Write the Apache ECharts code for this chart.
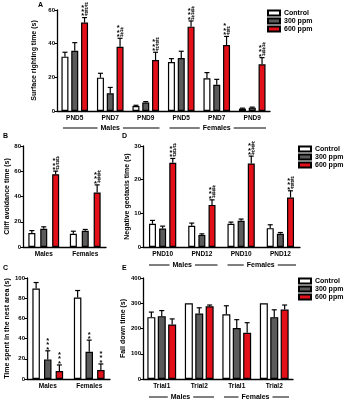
<!DOCTYPE html>
<html>
<head>
<meta charset="utf-8">
<script src="https://cdn.jsdelivr.net/npm/echarts@6/dist/echarts.min.js"></script>
<style>
  html, body { margin: 0; padding: 0; background: #fff; }
  #main { width: 346px; height: 400px; }
</style>
</head>
<body>
<div id="main"></div>
<script>
var FONT = 'Liberation Sans';
var doses = ['Control', '300 ppm', '600 ppm'];
var colors = ['#ffffff', '#5a5a5a', '#e3101a'];

// A - surface righting
var A_cats = ['PND5', 'PND7', 'PND9', 'PND5', 'PND7', 'PND9'];
var A_ctrl = [32.3, 19.8, 3, 29.1, 19.4, 1.4];
var A_ctrl_err = [2.6, 2.6, 0.4, 2, 3.4, 0.3];
var A_300 = [35.8, 10.5, 5, 31.5, 15.6, 2];
var A_300_err = [4.8, 3.5, 0.6, 4, 3.2, 0.3];
var A_600 = [52.5, 38.2, 30.3, 50.1, 39.2, 27.7];
var A_600_err = [3, 5, 4.6, 3.4, 5.1, 4];
var A_sig600 = ['***\n###', '***\n##', '***\n###', '***\n###', '***\n##', '***\n###'];

// B - cliff avoidance
var B_cats = ['Males', 'Females'];
var B_ctrl = [11, 10.5];
var B_ctrl_err = [2, 2];
var B_300 = [14.5, 12.9];
var B_300_err = [1.5, 1];
var B_600 = [57.6, 43.2];
var B_600_err = [2.5, 6];
var B_sig600 = ['***\n###', '***\n###'];

// D - negative geotaxis
var D_cats = ['PND10', 'PND12', 'PND10', 'PND12'];
var D_ctrl = [6.9, 6.3, 6.9, 5.6];
var D_ctrl_err = [1, 0.8, 0.5, 1];
var D_300 = [5.5, 3.6, 7.8, 3.9];
var D_300_err = [0.7, 0.3, 0.5, 0.4];
var D_600 = [25, 12.5, 24.8, 14.7];
var D_600_err = [1.3, 1.5, 2.2, 2];
var D_sig600 = ['***\n###', '***\n###', '***\n###', '***\n###'];

// C - nest area
var C_cats = ['Males', 'Females'];
var C_ctrl = [89.5, 80.6];
var C_ctrl_err = [6, 7];
var C_300 = [19.4, 27];
var C_300_err = [8.5, 11.5];
var C_600 = [7.9, 8.9];
var C_600_err = [6, 6];
var C_sig300 = ['***', '**'];
var C_sig600 = ['***', '***'];

// E - fall down
var E_cats = ['Trial1', 'Trial2', 'Trial1', 'Trial2'];
var E_ctrl = [245, 300, 256, 300];
var E_ctrl_err = [20, 0, 34, 0];
var E_300 = [249, 259, 202, 245];
var E_300_err = [22, 23, 33, 29];
var E_600 = [216, 288, 183, 275];
var E_600_err = [22, 5, 40, 18];

var panels = [
  { letter: 'A', grid: { left: 57, top: 10, width: 213, height: 101 }, cats: A_cats, max: 60, interval: 20,
    name: 'Surface righting time (s)', nameGap: 13, bw: 7, gap: 0.4,
    vals: [A_ctrl, A_300, A_600], errs: [A_ctrl_err, A_300_err, A_600_err], sig: [null, null, A_sig600],
    groups: [['Males', 0, 2], ['Females', 3, 5]], groupY: 128, legend: [267, 9] },
  { letter: 'B', grid: { left: 23, top: 146, width: 83, height: 101 }, cats: B_cats, max: 80, interval: 20,
    name: 'Cliff avoidance time (s)', nameGap: 12, bw: 7, gap: 0.7,
    vals: [B_ctrl, B_300, B_600], errs: [B_ctrl_err, B_300_err, B_600_err], sig: [null, null, B_sig600] },
  { letter: 'D', grid: { left: 143, top: 146, width: 157, height: 101 }, cats: D_cats, max: 30, interval: 10,
    name: 'Negative geotaxis time (s)', nameGap: 12, bw: 7, gap: 0.45,
    vals: [D_ctrl, D_300, D_600], errs: [D_ctrl_err, D_300_err, D_600_err], sig: [null, null, D_sig600],
    groups: [['Males', 0, 1], ['Females', 2, 3]], groupY: 265, legend: [298, 145] },
  { letter: 'C', grid: { left: 27, top: 278, width: 83, height: 101 }, cats: C_cats, max: 100, interval: 20,
    name: 'Time spent in the nest area (s)', nameGap: 16, bw: 7.5, gap: 0.55,
    vals: [C_ctrl, C_300, C_600], errs: [C_ctrl_err, C_300_err, C_600_err], sig: [null, C_sig300, C_sig600] },
  { letter: 'E', grid: { left: 143, top: 278, width: 150, height: 101 }, cats: E_cats, max: 400, interval: 100,
    name: 'Fall down time (s)', nameGap: 16, bw: 8, gap: 0.3,
    vals: [E_ctrl, E_300, E_600], errs: [E_ctrl_err, E_300_err, E_600_err], sig: [null, null, null],
    groups: [['Males', 0, 1], ['Females', 2, 3]], groupY: 397, legend: [298, 277] }
];

var grids = [], xAxes = [], yAxes = [], series = [], legends = [], letters = [];

panels.forEach(function (p, pi) {
  grids.push(p.grid);
  xAxes.push({
    type: 'category', gridIndex: pi, data: p.cats,
    axisLine: { lineStyle: { color: '#000', width: 1.3 } },
    axisTick: { alignWithLabel: true, length: 2.5, lineStyle: { color: '#000', width: 1 } },
    axisLabel: { color: '#000', fontSize: 6.5, fontWeight: 'bold', fontFamily: FONT, margin: 4, interval: 0 }
  });
  yAxes.push({
    type: 'value', gridIndex: pi, min: 0, max: p.max, interval: p.interval,
    name: p.name, nameLocation: 'middle', nameGap: p.nameGap,
    nameTextStyle: { color: '#000', fontSize: 7, fontWeight: 'bold', fontFamily: FONT },
    splitLine: { show: false },
    axisLine: { show: true, lineStyle: { color: '#000', width: 1.3 } },
    axisTick: { show: true, length: 2.5, lineStyle: { color: '#000', width: 1 } },
    axisLabel: { color: '#000', fontSize: 6, fontWeight: 'bold', fontFamily: FONT, margin: 2 }
  });
  for (var k = 0; k < 3; k++) {
    series.push({
      name: doses[k], type: 'bar', xAxisIndex: pi, yAxisIndex: pi,
      data: p.vals[k], barWidth: p.bw, barGap: (p.gap * 100) + '%',
      itemStyle: { color: colors[k], borderColor: '#000', borderWidth: 1.2 },
      emphasis: { disabled: true }
    });
  }
  // error bars + significance marks
  var eb = [];
  for (var k2 = 0; k2 < 3; k2++) {
    for (var c = 0; c < p.cats.length; c++) {
      eb.push([c, k2, p.vals[k2][c], p.errs[k2][c], p.sig[k2] ? p.sig[k2][c] : '']);
    }
  }
  (function (bw, gap, eb) {
    series.push({
      type: 'custom', xAxisIndex: pi, yAxisIndex: pi, data: eb, z: 5,
      encode: { x: 0, y: 2 }, silent: true,
      renderItem: function (params, api) {
        var ci = api.value(0), k = api.value(1), v = api.value(2), e = api.value(3);
        var lab = eb[params.dataIndex][4];
        var total = 3 * bw + 2 * gap * bw;
        var off = -total / 2 + bw / 2 + k * (bw + gap * bw);
        var base = api.coord([ci, v]);
        var top = api.coord([ci, v + e]);
        var x = base[0] + off;
        var children = [];
        if (e > 0) {
          children.push({ type: 'line', shape: { x1: x, y1: base[1], x2: x, y2: top[1] }, style: { stroke: '#000', lineWidth: 1.2 } });
          children.push({ type: 'line', shape: { x1: x - 2.5, y1: top[1], x2: x + 2.5, y2: top[1] }, style: { stroke: '#000', lineWidth: 1.2 } });
        }
        if (lab) {
          // marks are printed sideways: each line becomes a column of symbols
          var cols = lab.split('\n');
          cols.forEach(function (col, j) {
            var cx = x + (j - (cols.length - 1) / 2) * 3.6;
            var star = col.charAt(0) === '*';
            children.push({ type: 'text', x: cx, y: top[1] - 1 + (star ? 2 : 0),
              style: { text: col.split('').join('\n'), fontSize: star ? 7.5 : 6.5, fontWeight: 'bold', fontFamily: FONT, fill: '#000',
                align: 'center', verticalAlign: 'bottom', lineHeight: 4.4 } });
          });
        }
        return { type: 'group', children: children };
      }
    });
  })(p.bw, p.gap, eb);

  if (p.legend) {
    legends.push({
      data: doses, orient: 'vertical', left: p.legend[0], top: p.legend[1],
      itemWidth: 12, itemHeight: 5, itemGap: 0, icon: 'rect', selectedMode: false, padding: 0,
      textStyle: { color: '#000', fontSize: 7, fontWeight: 'bold', fontFamily: FONT, lineHeight: 8, padding: [0, 0, 0, -1] }
    });
  }
});

letters = [
  { type: 'text', left: 38, top: 2, style: { text: 'A', fontSize: 7, fontWeight: 'bold', fontFamily: FONT, fill: '#000' } },
  { type: 'text', left: 3, top: 133, style: { text: 'B', fontSize: 7, fontWeight: 'bold', fontFamily: FONT, fill: '#000' } },
  { type: 'text', left: 122, top: 133, style: { text: 'D', fontSize: 7, fontWeight: 'bold', fontFamily: FONT, fill: '#000' } },
  { type: 'text', left: 3, top: 265, style: { text: 'C', fontSize: 7, fontWeight: 'bold', fontFamily: FONT, fill: '#000' } },
  { type: 'text', left: 122, top: 265, style: { text: 'E', fontSize: 7, fontWeight: 'bold', fontFamily: FONT, fill: '#000' } }
];

var chart = echarts.init(document.getElementById('main'), null, { renderer: 'canvas' });
var option = {
  animation: false,
  backgroundColor: '#fff',
  grid: grids,
  xAxis: xAxes,
  yAxis: yAxes,
  legend: legends,
  series: series,
  graphic: letters
};
chart.setOption(option);

// Males / Females group labels under the x axes
var ctx = document.createElement('canvas').getContext('2d');
ctx.font = 'bold 7px ' + FONT;
var extra = letters.slice();
panels.forEach(function (p, pi) {
  if (!p.groups) return;
  var c0 = chart.convertToPixel({ gridIndex: pi }, [0, 0])[0];
  var c1 = chart.convertToPixel({ gridIndex: pi }, [1, 0])[0];
  var band = c1 - c0;
  p.groups.forEach(function (g) {
    var xa = chart.convertToPixel({ gridIndex: pi }, [g[1], 0])[0];
    var xb = chart.convertToPixel({ gridIndex: pi }, [g[2], 0])[0];
    var x1 = xa - band / 2 + 6, x2 = xb + band / 2 - 4;
    var mid = (xa + xb) / 2;
    var tw = ctx.measureText(g[0]).width;
    extra.push({ type: 'line', shape: { x1: x1, y1: p.groupY, x2: mid - tw / 2 - 3, y2: p.groupY }, style: { stroke: '#000', lineWidth: 1 } });
    extra.push({ type: 'line', shape: { x1: mid + tw / 2 + 3, y1: p.groupY, x2: x2, y2: p.groupY }, style: { stroke: '#000', lineWidth: 1 } });
    extra.push({ type: 'text', x: mid, y: p.groupY, style: { text: g[0], fontSize: 7, fontWeight: 'bold', fontFamily: FONT, fill: '#000', align: 'center', verticalAlign: 'middle' } });
  });
});
chart.setOption({ graphic: extra }, { replaceMerge: ['graphic'] });
</script>
</body>
</html>
